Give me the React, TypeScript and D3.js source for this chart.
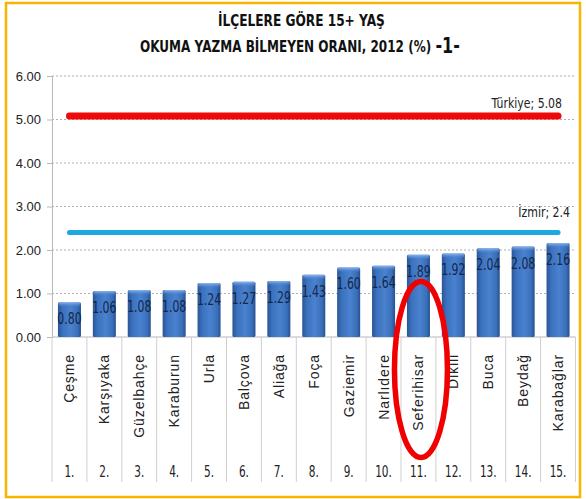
import { useEffect, useRef } from 'react';
import * as d3 from 'd3';

const districts = ['Çeşme', 'Karşıyaka', 'Güzelbahçe', 'Karaburun', 'Urla', 'Balçova', 'Aliağa', 'Foça', 'Gaziemir', 'Narlıdere', 'Seferihisar', 'Dikili', 'Buca', 'Beydağ', 'Karabağlar'];
const rates = [0.80, 1.06, 1.08, 1.08, 1.24, 1.27, 1.29, 1.43, 1.60, 1.64, 1.89, 1.92, 2.04, 2.08, 2.16];
const ranks = ['1.', '2.', '3.', '4.', '5.', '6.', '7.', '8.', '9.', '10.', '11.', '12.', '13.', '14.', '15.'];
const yTicks = [0, 1, 2, 3, 4, 5, 6];
const refNames = ['Türkiye', 'İzmir'];
const refValues = [5.08, 2.4];
const refColors = ['#ee0a0a', '#1ba9e0'];
const refWidths = [7, 5];
const highlighted = 'Seferihisar';

const W = 586;
const H = 499;
const FONT = '"DejaVu Sans", sans-serif';
const SANS = '"Liberation Sans", Arial, sans-serif';

// squeeze text horizontally to mimic a condensed face
function squeeze(sel, k) {
  sel.each(function () {
    const w = this.getComputedTextLength();
    this.setAttribute('textLength', String(w * k));
    this.setAttribute('lengthAdjust', 'spacingAndGlyphs');
  });
  return sel;
}

function createChart(svgEl) {
  const svg = d3.select(svgEl);
  svg.selectAll('*').remove();

  const x = d3.scaleBand().domain(districts).range([52, 575.5]).paddingInner(0.34).paddingOuter(0.17);
  const y = d3.scaleLinear().domain([0, 6]).range([337, 76]);

  const defs = svg.append('defs');
  const grad = defs.append('linearGradient').attr('id', 'barGrad').attr('x1', 0).attr('x2', 1).attr('y1', 0).attr('y2', 0);
  grad.append('stop').attr('offset', '0%').attr('stop-color', '#2a5596');
  grad.append('stop').attr('offset', '20%').attr('stop-color', '#3b71bd');
  grad.append('stop').attr('offset', '55%').attr('stop-color', '#4a82cf');
  grad.append('stop').attr('offset', '85%').attr('stop-color', '#3a6fba');
  grad.append('stop').attr('offset', '100%').attr('stop-color', '#26508f');
  const top = defs.append('linearGradient').attr('id', 'topGrad').attr('x1', 0).attr('x2', 0).attr('y1', 0).attr('y2', 1);
  top.append('stop').attr('offset', '0%').attr('stop-color', '#8fb8ee');
  top.append('stop').attr('offset', '100%').attr('stop-color', '#4a82cf').attr('stop-opacity', 0);

  // frame
  svg.append('rect').attr('width', W).attr('height', H).attr('fill', '#fff');
  svg.append('rect').attr('x', 6).attr('y', 3).attr('width', 574).attr('height', 494)
    .attr('fill', 'none').attr('stroke', '#f7b500').attr('stroke-width', 2.5);

  // title, two lines, squeezed with a transform
  const t1 = svg.append('text')
    .attr('font-family', FONT).attr('font-weight', 'bold').attr('font-size', 16.5).attr('fill', '#111')
    .text('İLÇELERE GÖRE 15+ YAŞ');
  const w1 = t1.node().getComputedTextLength();
  t1.attr('transform', `translate(218,26) scale(${167 / w1},1)`);

  const t2 = svg.append('text')
    .attr('font-family', FONT).attr('font-weight', 'bold').attr('font-size', 16.5).attr('fill', '#111');
  t2.append('tspan').text('OKUMA YAZMA BİLMEYEN ORANI, 2012 (%) ');
  t2.append('tspan').attr('font-size', 22).attr('dy', 1).text('-1-');
  const w2 = t2.node().getComputedTextLength();
  t2.attr('transform', `translate(140,52) scale(${320 / w2},1)`);

  // grid
  svg.append('g').selectAll('line').data(yTicks.filter(d => d > 0)).join('line')
    .attr('x1', 52).attr('x2', 576).attr('y1', d => y(d)).attr('y2', d => y(d))
    .attr('stroke', '#9a9a9a').attr('stroke-width', 0.8).attr('stroke-dasharray', '2,2');

  // y axis
  const yAxis = svg.append('g').attr('transform', 'translate(52,0)')
    .call(d3.axisLeft(y).tickValues(yTicks).tickFormat(d3.format('.2f')).tickSize(5).tickPadding(6));
  yAxis.select('.domain').attr('stroke', '#b8b8b8');
  yAxis.selectAll('.tick line').attr('stroke', '#b8b8b8');
  yAxis.selectAll('text').attr('font-family', SANS).attr('font-size', 13).attr('fill', '#222');

  // x axis line and separators
  svg.append('line').attr('x1', 52).attr('x2', 575.5).attr('y1', y(0)).attr('y2', y(0)).attr('stroke', '#b8b8b8');
  const step = x.step();
  const seps = d3.range(districts.length + 1).map(i => 52 + i * step);
  svg.append('g').selectAll('line').data(seps).join('line')
    .attr('x1', d => d).attr('x2', d => d).attr('y1', y(0)).attr('y2', 482)
    .attr('stroke', '#cfcfcf');

  // bars
  const bars = svg.append('g').selectAll('g').data(rates).join('g');
  bars.append('rect')
    .attr('x', (d, i) => x(districts[i])).attr('width', x.bandwidth())
    .attr('y', d => y(d)).attr('height', d => y(0) - y(d))
    .attr('rx', 1.5).attr('fill', 'url(#barGrad)');
  bars.append('rect')
    .attr('x', (d, i) => x(districts[i]) + 0.5).attr('width', x.bandwidth() - 1)
    .attr('y', d => y(d)).attr('height', 5)
    .attr('rx', 1.5).attr('fill', 'url(#topGrad)');
  const vals = bars.append('text')
    .attr('x', (d, i) => x(districts[i]) + x.bandwidth() / 2).attr('y', d => y(d) + 22)
    .attr('text-anchor', 'middle').attr('font-family', FONT)
    .attr('font-size', 16).attr('fill', '#14264a')
    .text(d => d.toFixed(2));
  squeeze(vals, 0.68);

  // reference lines
  const cx = d => x(d) + x.bandwidth() / 2;
  refValues.forEach((v, i) => {
    svg.append('line')
      .attr('x1', cx(districts[0])).attr('x2', cx(districts[districts.length - 1]))
      .attr('y1', y(v)).attr('y2', y(v))
      .attr('stroke', refColors[i]).attr('stroke-width', refWidths[i]).attr('stroke-linecap', 'round');
  });
  const lab1 = svg.append('text').attr('x', 562).attr('y', y(refValues[0]) - 8).attr('text-anchor', 'end')
    .attr('font-family', FONT).attr('font-size', 14).attr('fill', '#222')
    .text(`${refNames[0]}; ${refValues[0]}`);
  const lab2 = svg.append('text').attr('x', 570).attr('y', y(refValues[1]) - 16).attr('text-anchor', 'end')
    .attr('font-family', FONT).attr('font-size', 14).attr('fill', '#222')
    .text(`${refNames[1]}; ${refValues[1]}`);
  squeeze(lab1, 0.78);
  squeeze(lab2, 0.78);

  // category labels
  svg.append('g').selectAll('text').data(districts).join('text')
    .attr('transform', d => `translate(${cx(d) + 5},354) rotate(-90)`)
    .attr('text-anchor', 'end').attr('font-family', SANS).attr('font-size', 14)
    .attr('letter-spacing', 0.9).attr('fill', '#222')
    .text(d => d);
  const rk = svg.append('g').selectAll('text').data(ranks).join('text')
    .attr('x', (d, i) => cx(districts[i])).attr('y', 477)
    .attr('text-anchor', 'middle').attr('font-family', FONT)
    .attr('font-size', 15).attr('fill', '#222')
    .text(d => d);
  squeeze(rk, 0.7);

  // highlight ellipse
  svg.append('ellipse')
    .attr('cx', cx(highlighted) + 2.5).attr('cy', 369.5).attr('rx', 26.5).attr('ry', 88)
    .attr('fill', 'none').attr('stroke', '#f00000').attr('stroke-width', 5.5);
}

export default function App() {
  const ref = useRef(null);
  useEffect(() => {
    if (ref.current) createChart(ref.current);
  }, []);
  return (
    <svg ref={ref} width={W} height={H}
      style={{ position: 'absolute', left: 0, top: 0, display: 'block' }} />
  );
}
